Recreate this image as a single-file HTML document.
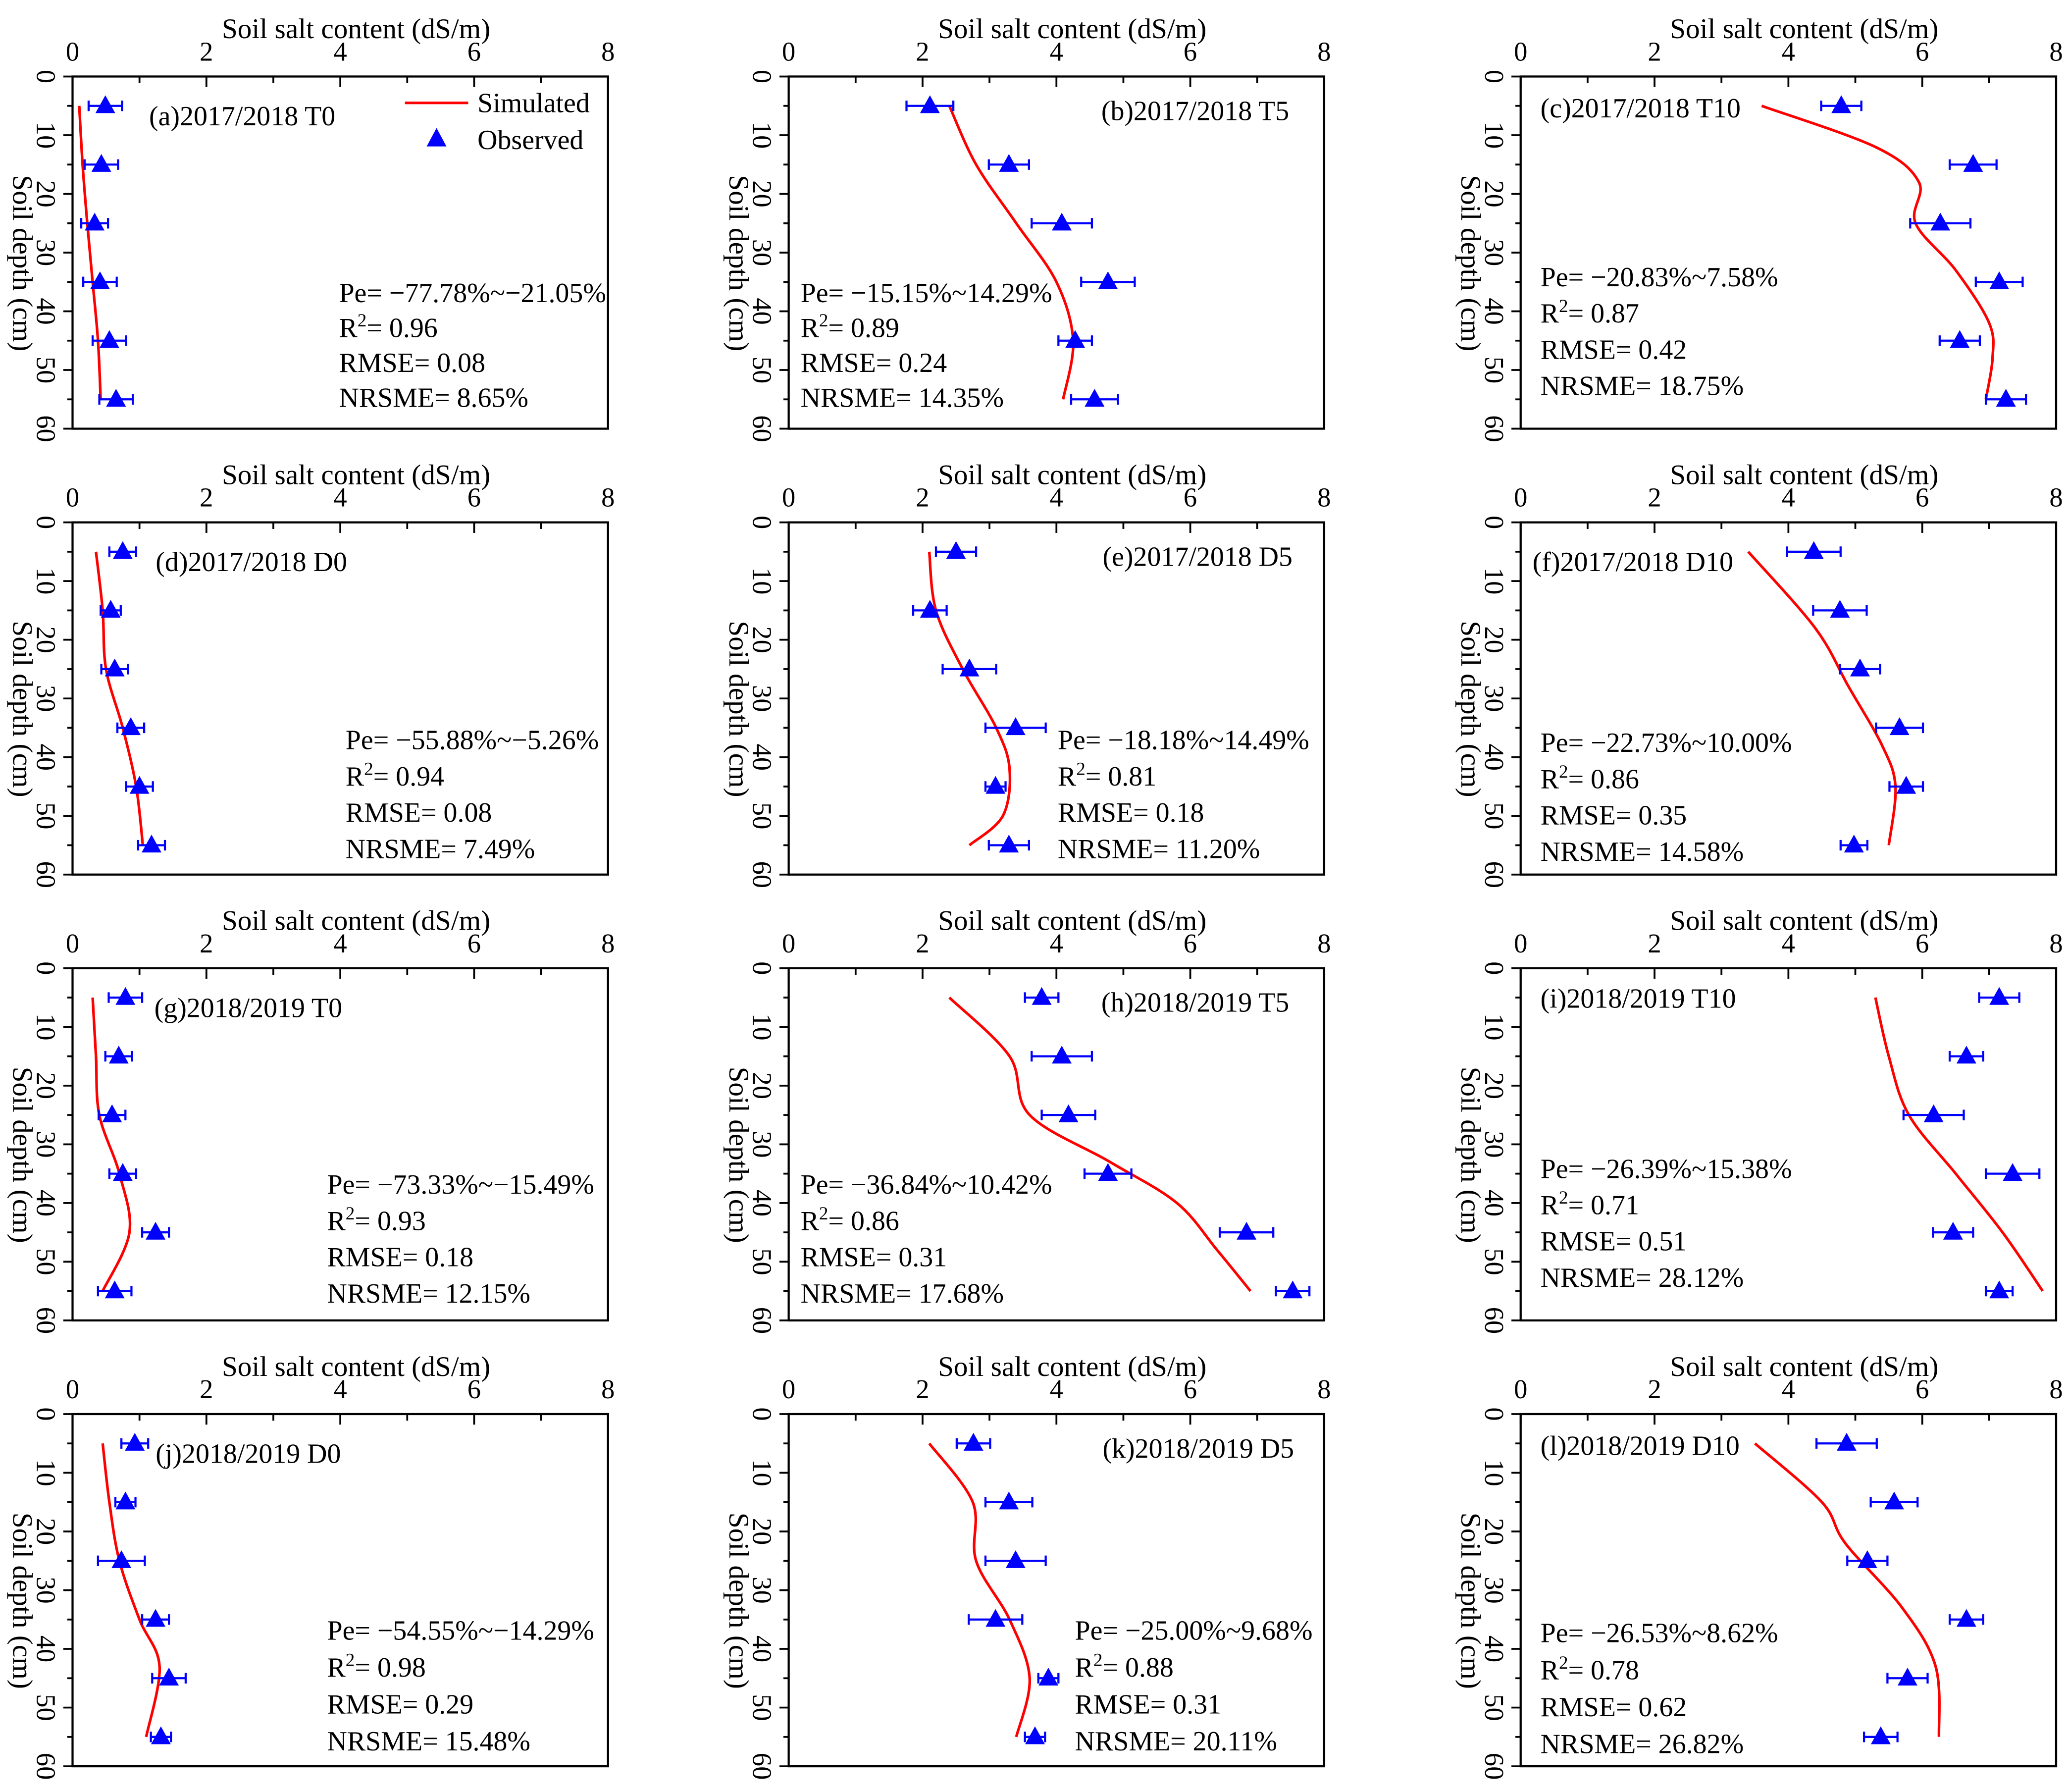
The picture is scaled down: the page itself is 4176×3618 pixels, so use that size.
<!DOCTYPE html>
<html><head><meta charset="utf-8"><style>
html,body{margin:0;padding:0;background:#fff;}
svg{display:block;}
text{font-family:"Liberation Serif",serif;fill:#000;}
</style></head><body>
<svg id="chart" xmlns="http://www.w3.org/2000/svg" width="4176" height="3618" viewBox="0 0 1568 1358.5"></svg>
<script>
const depths = [5,15,25,35,45,55];
const panelLabels = ["(a)2017/2018 T0","(b)2017/2018 T5","(c)2017/2018 T10","(d)2017/2018 D0","(e)2017/2018 D5","(f)2017/2018 D10","(g)2018/2019 T0","(h)2018/2019 T5","(i)2018/2019 T10","(j)2018/2019 D0","(k)2018/2019 D5","(l)2018/2019 D10"];
const observed = [
 [0.49,0.43,0.33,0.41,0.55,0.65],
 [2.11,3.29,4.08,4.77,4.28,4.57],
 [4.79,6.76,6.27,7.15,6.56,7.25],
 [0.75,0.57,0.63,0.87,1.0,1.18],
 [2.50,2.11,2.70,3.39,3.09,3.29],
 [4.38,4.77,5.07,5.66,5.76,4.98],
 [0.79,0.69,0.59,0.75,1.24,0.63],
 [3.78,4.08,4.18,4.77,6.84,7.53],
 [7.15,6.66,6.17,7.35,6.46,7.15],
 [0.93,0.79,0.73,1.24,1.44,1.32],
 [2.76,3.29,3.39,3.09,3.88,3.68],
 [4.87,5.58,5.18,6.66,5.78,5.38]
];
const obsErr = [
 [0.25,0.25,0.2,0.25,0.25,0.25],
 [0.35,0.3,0.45,0.4,0.25,0.35],
 [0.3,0.35,0.45,0.35,0.3,0.3],
 [0.2,0.15,0.2,0.2,0.2,0.2],
 [0.3,0.25,0.4,0.45,0.15,0.3],
 [0.4,0.4,0.3,0.35,0.25,0.2],
 [0.25,0.2,0.2,0.2,0.2,0.25],
 [0.25,0.45,0.4,0.35,0.4,0.25],
 [0.3,0.25,0.45,0.4,0.3,0.2],
 [0.2,0.15,0.35,0.2,0.25,0.15],
 [0.25,0.35,0.45,0.4,0.15,0.15],
 [0.45,0.35,0.3,0.25,0.3,0.25]
];
const simDepth = [
 [5,15,25,35,45,55],
 [5,15,25,35,45,55],
 [5,12,18,25,33,42,48,55],
 [5,15,25,35,45,55],
 [5,15,25,35,42,50,55],
 [5,18,28,38,45,55],
 [5,15,25,35,45,55],
 [5,15,25,33,40,48,55],
 [5,15,25,35,45,55],
 [5,15,25,35,43,55],
 [5,15,25,35,45,55],
 [5,15,22,33,43,55]
];
const simValue = [
 [0.1,0.15,0.22,0.3,0.38,0.42],
 [2.4,2.8,3.4,4.0,4.25,4.1],
 [3.6,5.3,5.95,5.9,6.5,7.0,7.05,6.95],
 [0.35,0.45,0.5,0.75,0.95,1.05],
 [2.1,2.2,2.6,3.1,3.3,3.2,2.7],
 [3.4,4.4,4.9,5.4,5.6,5.5],
 [0.3,0.35,0.4,0.7,0.85,0.45],
 [2.4,3.3,3.6,4.8,5.8,6.4,6.9],
 [5.3,5.5,5.8,6.5,7.2,7.8],
 [0.45,0.55,0.7,1.0,1.3,1.1],
 [2.1,2.75,2.8,3.3,3.6,3.4],
 [3.5,4.5,4.85,5.7,6.2,6.25]
];
const pe = ["−77.78%~−21.05%","−15.15%~14.29%","−20.83%~7.58%","−55.88%~−5.26%","−18.18%~14.49%","−22.73%~10.00%","−73.33%~−15.49%","−36.84%~10.42%","−26.39%~15.38%","−54.55%~−14.29%","−25.00%~9.68%","−26.53%~8.62%"];
const r2 = ["0.96","0.89","0.87","0.94","0.81","0.86","0.93","0.86","0.71","0.98","0.88","0.78"];
const rmse = ["0.08","0.24","0.42","0.08","0.18","0.35","0.18","0.31","0.51","0.29","0.31","0.62"];
const nrsme = ["8.65%","14.35%","18.75%","7.49%","11.20%","14.58%","12.15%","17.68%","28.12%","15.48%","20.11%","26.82%"];
const xTicks = [0,2,4,6,8];
const yTicks = [0,10,20,30,40,50,60];

const colX = [55,598,1153];
const rowY = [58,396,734,1072];
const W = 406, H = 267;
const statPos = [[257,222,26.5],[607,222,26.5],[1168,210,27.5],[262,561,27.5],[802,561,27.5],[1168,563,27.5],[248,898,27.5],[607,898,27.5],[1168,886,27.5],[248,1236,28],[815,1236,28],[1168,1238,28]];
const labelPos = [[113,88],[835,84],[1168,82],[118,426],[836,422],[1162,426],[117,764],[835,760],[1168,757],[118,1102],[836,1098],[1168,1096]];

const svg = document.getElementById('chart');
const NS = 'http://www.w3.org/2000/svg';
function mk(tag, attrs, parent){const e=document.createElementNS(NS,tag);for(const k in attrs)e.setAttribute(k,attrs[k]);(parent||svg).appendChild(e);return e;}

for(let p=0;p<12;p++){
  const x0 = colX[p%3], y0 = rowY[Math.floor(p/3)];
  const sx = v => x0 + v*W/8;
  const sy = d => y0 + d*H/60;
  const g = mk('g',{});
  
  
  const frame = mk('rect',{x:x0,y:y0,width:W,height:H,fill:'none',stroke:'#000','stroke-width':1.6},g);
  
  
  for(let v=0;v<=8;v++){
    mk('line',{x1:sx(v),x2:sx(v),y1:y0,y2:y0+(v%2?5:8),stroke:'#000','stroke-width':1.4},g);
  }
  xTicks.forEach(v=>{
    const t=mk('text',{x:sx(v),y:y0-12,'font-size':20.5,'text-anchor':'middle'},g);
    t.textContent=v;
    
    
  });
  const xt=mk('text',{x:x0+W/2+12,y:y0-29,'font-size':21.5,'text-anchor':'middle'},g);
  xt.textContent='Soil salt content (dS/m)';
  
  
  for(let d=0;d<=60;d+=5){
    mk('line',{x1:x0,x2:x0-(d%10?4:7),y1:sy(d),y2:sy(d),stroke:'#000','stroke-width':1.4},g);
  }
  yTicks.forEach(d=>{
    const t=mk('text',{x:0,y:0,'font-size':20.5,'text-anchor':'middle',transform:`translate(${x0-27},${sy(d)}) rotate(90)`},g);
    t.textContent=d;
    
    
  });
  const yt=mk('text',{x:0,y:0,'font-size':21.5,'text-anchor':'middle',transform:`translate(${x0-45},${y0+H/2+8}) rotate(90)`},g);
  yt.textContent='Soil depth (cm)';
  
  
  const pts = simDepth[p].map((d,i)=>[sx(simValue[p][i]),sy(d)]);
  let dstr = `M${pts[0][0]},${pts[0][1]}`;
  for(let i=0;i<pts.length-1;i++){
    const p0=pts[Math.max(0,i-1)],p1=pts[i],p2=pts[i+1],p3=pts[Math.min(pts.length-1,i+2)];
    const c1=[p1[0]+(p2[0]-p0[0])/6,p1[1]+(p2[1]-p0[1])/6];
    const c2=[p2[0]-(p3[0]-p1[0])/6,p2[1]-(p3[1]-p1[1])/6];
    dstr+=` C${c1[0]},${c1[1]} ${c2[0]},${c2[1]} ${p2[0]},${p2[1]}`;
  }
  const line=mk('path',{d:dstr,fill:'none',stroke:'#ff0000','stroke-width':2},g);
  
  
  depths.forEach((d,i)=>{
    const cx=sx(observed[p][i]), cy=sy(d), e=obsErr[p][i]*W/8;
    const eb=mk('path',{d:`M${cx-e},${cy}H${cx+e}M${cx-e},${cy-4}V${cy+4}M${cx+e},${cy-4}V${cy+4}`,stroke:'#0000ff','stroke-width':1.6,fill:'none'},g);
    
    
    const tr=mk('path',{d:`M${cx},${cy-8}L${cx+7.5},${cy+5.5}L${cx-7.5},${cy+5.5}Z`,fill:'#0000ff'},g);
    
    
  });
  const lb=mk('text',{x:labelPos[p][0],y:labelPos[p][1]+7,'font-size':21},g);
  lb.textContent=panelLabels[p];
  
  
  const [tx,ty,dy]=statPos[p];
  const st=mk('g',{},g);
  
  
  const t1=mk('text',{x:tx,y:ty+7,'font-size':21},st); t1.textContent='Pe= '+pe[p];
  const t2=mk('text',{x:tx,y:ty+dy+7,'font-size':21},st);
  t2.innerHTML='R<tspan dy="-8" font-size="14">2</tspan><tspan dy="8">= '+r2[p]+'</tspan>';
  const t3=mk('text',{x:tx,y:ty+2*dy+7,'font-size':21},st); t3.textContent='RMSE= '+rmse[p];
  const t4=mk('text',{x:tx,y:ty+3*dy+7,'font-size':21},st); t4.textContent='NRSME= '+nrsme[p];
}
const lg=mk('g',{});


mk('line',{x1:307,x2:355,y1:78,y2:78,stroke:'#ff0000','stroke-width':2},lg);
const l1=mk('text',{x:362,y:85,'font-size':21},lg); l1.textContent='Simulated';
mk('path',{d:'M331,97L338.5,111L323.5,111Z',fill:'#0000ff'},lg);
const l2=mk('text',{x:362,y:113,'font-size':21},lg); l2.textContent='Observed';
</script>
</body></html>
